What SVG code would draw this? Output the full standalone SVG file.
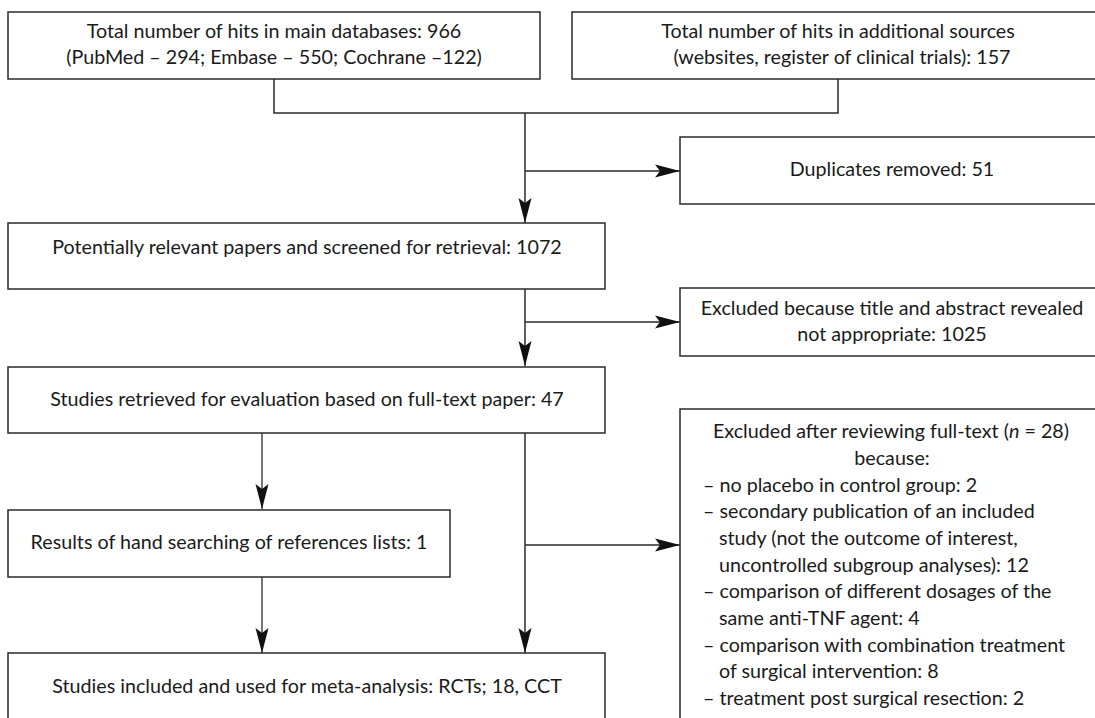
<svg xmlns="http://www.w3.org/2000/svg" width="1095" height="718" viewBox="0 0 1095 718">
<defs>
<style>
.box{fill:#fff;stroke:#2a2a2a;stroke-width:1.5}
.ln{fill:none;stroke:#2a2a2a;stroke-width:1.5}
.thin{fill:none;stroke:#1a1a1a;stroke-width:1.2}
text{font-family:Lato,"Open Sans","Liberation Sans",sans-serif;font-size:19.7px;fill:#1a1a1a}
.c{text-anchor:middle}
</style>
<marker id="ah" markerUnits="userSpaceOnUse" markerWidth="26" markerHeight="14" viewBox="0 0 26 14" refX="25" refY="7" orient="auto">
<path d="M0,0.5 L25,7 L0,13.5 L5,7 Z" fill="#111"/>
</marker>
</defs>
<rect width="1095" height="718" fill="#fff"/>
<g id="connectors">
<polyline class="ln" points="274,79 274,113 838,113 838,79"/>
<line class="ln" x1="525" y1="113" x2="525" y2="223" marker-end="url(#ah)"/>
<line class="ln" x1="525" y1="171" x2="680" y2="171" marker-end="url(#ah)"/>
<line class="ln" x1="525" y1="289" x2="525" y2="366" marker-end="url(#ah)"/>
<line class="ln" x1="525" y1="322" x2="680" y2="322" marker-end="url(#ah)"/>
<line class="ln" x1="525" y1="433" x2="525" y2="653" marker-end="url(#ah)"/>
<line class="ln" x1="525" y1="545" x2="680" y2="545" marker-end="url(#ah)"/>
<line class="thin" x1="262" y1="433" x2="262" y2="509" marker-end="url(#ah)"/>
<line class="thin" x1="262" y1="577" x2="262" y2="653" marker-end="url(#ah)"/>
</g>
<g id="n-main">
<rect class="box" x="8" y="12" width="532" height="67"/>
<text class="c" x="274" y="37.5">Total number of hits in main databases: 966</text>
<text class="c" x="274" y="64">(PubMed – 294; Embase – 550; Cochrane –122)</text>
</g>
<g id="n-additional">
<rect class="box" x="572" y="12" width="540" height="67"/>
<text class="c" x="838" y="37.5">Total number of hits in additional sources</text>
<text class="c" x="842" y="64">(websites, register of clinical trials): 157</text>
</g>
<g id="n-duplicates">
<rect class="box" x="680" y="137" width="430" height="67"/>
<text class="c" x="892" y="176">Duplicates removed: 51</text>
</g>
<g id="n-potential">
<rect class="box" x="8" y="223" width="597" height="66"/>
<text class="c" x="307" y="254">Potentially relevant papers and screened for retrieval: 1072</text>
</g>
<g id="n-excl-title">
<rect class="box" x="680" y="288" width="430" height="68"/>
<text class="c" x="892" y="315">Excluded because title and abstract revealed</text>
<text class="c" x="892" y="341">not appropriate: 1025</text>
</g>
<g id="n-retrieved">
<rect class="box" x="8" y="367" width="597" height="66"/>
<text class="c" x="307" y="406">Studies retrieved for evaluation based on full-text paper: 47</text>
</g>
<g id="n-hand">
<rect class="box" x="8" y="510" width="442" height="67"/>
<text class="c" x="229" y="549">Results of hand searching of references lists: 1</text>
</g>
<g id="n-included">
<rect class="box" x="8" y="653" width="597" height="80"/>
<text class="c" x="307" y="693">Studies included and used for meta-analysis: RCTs; 18, CCT</text>
</g>
<g id="n-excl-full">
<rect class="box" x="680" y="409" width="430" height="330"/>
<text class="c" x="891" y="438">Excluded after reviewing full-text (<tspan font-style="italic">n</tspan> = 28)</text>
<text class="c" x="892" y="465">because:</text>
<text x="703" y="492">– no placebo in control group: 2</text>
<text x="703" y="518">– secondary publication of an included</text>
<text x="719" y="545">study (not the outcome of interest,</text>
<text x="719" y="572">uncontrolled subgroup analyses): 12</text>
<text x="703" y="598">– comparison of different dosages of the</text>
<text x="719" y="625">same anti-TNF agent: 4</text>
<text x="703" y="652">– comparison with combination treatment</text>
<text x="719" y="678">of surgical intervention: 8</text>
<text x="703" y="705">– treatment post surgical resection: 2</text>
</g>
</svg>
